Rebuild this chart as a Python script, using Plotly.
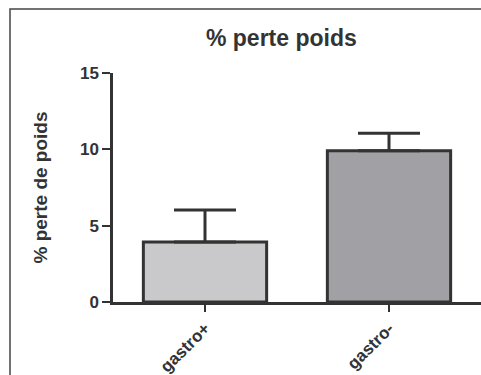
import plotly.graph_objects as go

categories = ["gastro+", "gastro-"]
values = [3.93, 9.9]
errors_up = [2.1, 1.15]
bar_colors = ["#c9c9cb", "#a1a1a5"]
y_ticks = [0, 5, 10, 15]

FONT = "Liberation Sans, Arial"

fig = go.Figure()
fig.add_trace(go.Bar(
    x=categories, y=values, width=0.67,
    marker=dict(color=bar_colors, line=dict(color="#333333", width=3)),
    error_y=dict(type="data", symmetric=False, array=errors_up,
                 arrayminus=[0, 0], color="#333333", thickness=3, width=31),
))

fig.update_layout(
    width=481, height=375,
    margin=dict(l=113, r=0, t=73, b=73),
    paper_bgcolor="white", plot_bgcolor="white",
    showlegend=False,
    title=dict(text="<b>% perte poids</b>", x=0.585, xanchor="center",
               y=1 - 38 / 375, yanchor="middle",
               font=dict(family=FONT, size=23, color="#333333")),
    font=dict(family=FONT, color="#333333"),
    xaxis=dict(range=[-0.5, 1.5], showline=True, linecolor="#333333", linewidth=2.5,
               ticks="outside", ticklen=7, tickwidth=2, tickcolor="#333333",
               tickangle=-45, showgrid=False, zeroline=False,
               tickfont=dict(size=17, family=FONT, weight="bold", color="#333333")),
    yaxis=dict(range=[0, 15], tickvals=y_ticks, showline=True, linecolor="#333333", linewidth=2.5,
               ticks="outside", ticklen=8, tickwidth=2, tickcolor="#333333",
               showgrid=False, zeroline=False,
               tickfont=dict(size=17, family=FONT, weight="bold", color="#333333"),
               title=dict(text="<b>% perte de poids</b>", standoff=28,
                          font=dict(size=19, family=FONT, color="#333333"))),
    shapes=[dict(type="rect", xref="paper", yref="paper",
                 x0=(10 - 113) / 368, x1=1.2, y0=-1.0, y1=(302 - 9) / 229,
                 line=dict(color="#444444", width=1.5), layer="below")],
)

fig.write_html("out.html")
